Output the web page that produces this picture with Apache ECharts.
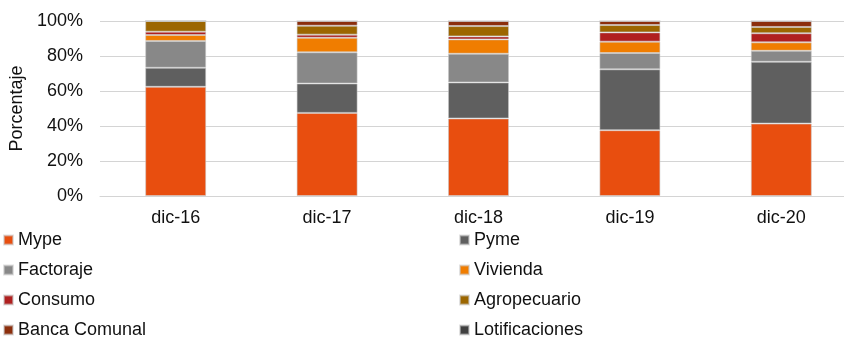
<!DOCTYPE html>
<html><head><meta charset="utf-8">
<script src="https://cdn.jsdelivr.net/npm/echarts@6/dist/echarts.min.js"></script>
<style>html,body{margin:0;padding:0;background:#fff;overflow:hidden}#c{width:860px;height:337px}</style>
</head><body><div id="c"></div>
<script>
var categories = ['dic-16','dic-17','dic-18','dic-19','dic-20'];
var mype          = [62.4, 47.5, 44.3, 37.6, 41.4];
var pyme          = [10.9, 16.8, 20.6, 34.8, 35.3];
var factoraje     = [15.3, 17.8, 16.4, 9.3, 6.3];
var vivienda      = [3.4, 8.3, 8.2, 6.5, 4.8];
var consumo       = [1.9, 1.8, 1.7, 5.3, 5.2];
var agropecuario  = [6.1, 5.1, 5.9, 4.2, 3.6];
var bancaComunal  = [0.0, 2.7, 2.9, 2.3, 3.4];
var lotificaciones= [0.0, 0.0, 0.0, 0.0, 0.0];
var yTicks = [0, 20, 40, 60, 80, 100];

var names = ['Mype','Pyme','Factoraje','Vivienda','Consumo','Agropecuario','Banca Comunal','Lotificaciones'];
var values = [mype, pyme, factoraje, vivienda, consumo, agropecuario, bancaComunal, lotificaciones];
var colors = ['#E84E0F','#5F5F5F','#888888','#F07D00','#B0201F','#9C6600','#8C2E0C','#404040'];

var font = 'Liberation Sans, Arial, sans-serif';
var series = names.map(function(n, i){
  return {
    name: n, type: 'bar', stack: 'total', barWidth: 61,
    itemStyle: {color: colors[i], borderColor: 'rgba(200,200,200,0.55)', borderWidth: 1},
    data: values[i]
  };
});

var legendText = {fontFamily: font, fontSize: 18, color: '#111', lineHeight: 18};
var chart = echarts.init(document.getElementById('c'), null, {renderer: 'canvas'});
chart.setOption({
  animation: false,
  color: colors,
  grid: {left: 100, top: 21, width: 757, height: 175, containLabel: false},
  legend: [
    {data: ['Mype','Factoraje','Consumo','Banca Comunal'], orient: 'vertical', left: 3, top: 231, height: 120, padding: 0,
     itemWidth: 9, itemHeight: 9, itemGap: 12, icon: 'rect', textStyle: legendText},
    {data: ['Pyme','Vivienda','Agropecuario','Lotificaciones'], orient: 'vertical', left: 459, top: 231, height: 120, padding: 0,
     itemWidth: 9, itemHeight: 9, itemGap: 12, icon: 'rect', textStyle: legendText}
  ],
  xAxis: {
    type: 'category', data: categories,
    axisLine: {show: true, lineStyle: {color: '#d4d4d4', width: 1}},
    axisTick: {show: false},
    axisLabel: {fontFamily: font, fontSize: 18, color: '#111', margin: 13}
  },
  yAxis: {
    type: 'value', min: yTicks[0], max: yTicks[yTicks.length-1], interval: 20,
    name: 'Porcentaje', nameLocation: 'middle', nameGap: 73, nameRotate: 90,
    nameTextStyle: {fontFamily: font, fontSize: 18, color: '#111'},
    axisLine: {show: false}, axisTick: {show: false},
    axisLabel: {fontFamily: font, fontSize: 18, color: '#111', margin: 17, formatter: '{value}%'},
    splitLine: {lineStyle: {color: '#d4d4d4', width: 1}}
  },
  series: series
});
</script></body></html>
